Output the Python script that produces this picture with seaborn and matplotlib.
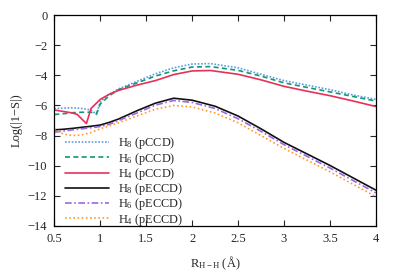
import matplotlib
matplotlib.use("Agg")
import matplotlib.pyplot as plt
import seaborn as sns

# pCCD curves
x_h8_pccd = [0.5, 0.6, 0.7, 0.8, 0.9, 0.96, 1.0, 1.1, 1.2, 1.4, 1.6, 1.8, 2.0, 2.2, 2.5, 2.75, 3.0, 3.25, 3.5, 3.75, 4.0]
y_h8_pccd = [-6.2, -6.18, -6.15, -6.2, -6.3, -6.6, -5.75, -5.25, -4.9, -4.4, -3.9, -3.5, -3.25, -3.22, -3.5, -3.93, -4.35, -4.65, -4.95, -5.3, -5.6]
x_h6_pccd = [0.5, 0.6, 0.7, 0.8, 0.9, 0.96, 1.0, 1.1, 1.2, 1.4, 1.6, 1.8, 2.0, 2.2, 2.5, 2.75, 3.0, 3.25, 3.5, 3.75, 4.0]
y_h6_pccd = [-6.6, -6.55, -6.48, -6.45, -6.45, -6.55, -5.9, -5.35, -4.95, -4.5, -4.05, -3.7, -3.45, -3.42, -3.67, -4.05, -4.5, -4.8, -5.1, -5.4, -5.71]
x_h4_pccd = [0.5, 0.6, 0.7, 0.75, 0.85, 0.9, 1.0, 1.1, 1.2, 1.4, 1.6, 1.8, 2.0, 2.2, 2.5, 2.75, 3.0, 3.25, 3.5, 3.75, 4.0]
y_h4_pccd = [-6.3, -6.4, -6.5, -6.6, -7.2, -6.2, -5.6, -5.25, -5.0, -4.65, -4.35, -3.95, -3.71, -3.68, -3.93, -4.3, -4.73, -5.05, -5.35, -5.7, -6.07]

# pECCD curves
x_eccd = [0.5, 0.6, 0.7, 0.8, 0.9, 1.0, 1.1, 1.2, 1.4, 1.6, 1.8, 2.0, 2.25, 2.5, 2.75, 3.0, 3.5, 4.0]
y_h8_peccd = [-7.62, -7.58, -7.52, -7.45, -7.38, -7.3, -7.12, -6.9, -6.35, -5.85, -5.52, -5.65, -6.05, -6.7, -7.55, -8.45, -9.98, -11.62]
y_h6_peccd = [-7.78, -7.7, -7.62, -7.55, -7.48, -7.4, -7.25, -7.0, -6.5, -5.98, -5.67, -5.8, -6.2, -6.88, -7.72, -8.6, -10.15, -11.8]
y_h4_peccd = [-7.55, -7.9, -8.0, -7.95, -7.8, -7.55, -7.35, -7.15, -6.7, -6.25, -6.0, -6.1, -6.5, -7.15, -8.0, -8.85, -10.4, -12.05]

labels = ["H$_8$ (pCCD)", "H$_6$ (pCCD)", "H$_4$ (pCCD)",
          "H$_8$ (pECCD)", "H$_6$ (pECCD)", "H$_4$ (pECCD)"]

sns.set_style("ticks")
plt.rcParams["font.family"] = ["Liberation Serif", "DejaVu Serif"]
plt.rcParams["mathtext.fontset"] = "custom"
plt.rcParams["mathtext.rm"] = "Liberation Serif"
plt.rcParams["mathtext.it"] = "Liberation Serif:italic"
plt.rcParams["font.size"] = 9

fig = plt.figure(figsize=(3.99, 2.79), dpi=100)
ax = fig.add_axes([0.136, 0.19, 0.806, 0.756])

series = [
    (x_h8_pccd, y_h8_pccd, "#5b9bf0", (0, (1, 1))),
    (x_h6_pccd, y_h6_pccd, "#139a6c", (0, (3, 2))),
    (x_h4_pccd, y_h4_pccd, "#e8305a", "-"),
    (x_eccd, y_h8_peccd, "#111111", "-"),
    (x_eccd, y_h6_peccd, "#9a6ae0", (0, (4, 1.5, 1, 1.5))),
    (x_eccd, y_h4_peccd, "#ff9a2a", (0, (1, 1.5))),
]
for (xs, ys, col, ls), lab in zip(series, labels):
    sns.lineplot(x=xs, y=ys, ax=ax, color=col, linestyle=ls, linewidth=1.2, label=lab)

ax.set_xlim(0.5, 4)
ax.set_ylim(-14, 0)
ax.set_xticks([0.5, 1, 1.5, 2, 2.5, 3, 3.5, 4])
ax.set_xticklabels(["0.5", "1", "1.5", "2", "2.5", "3", "3.5", "4"])
ax.set_yticks(range(-14, 1, 2))
ax.tick_params(direction="in", top=True, right=True, length=4, width=0.8, labelsize=9, pad=5)
for s in ax.spines.values():
    s.set_linewidth(0.9)
    s.set_color("black")

ax.set_xlabel("R$_{\\mathrm{H-H}}$ (Å)", fontsize=9, labelpad=7)
ax.set_ylabel("Log(|1−S|)", fontsize=9)

ax.legend(loc="lower left", bbox_to_anchor=(0.0, -0.06), frameon=False,
          handlelength=3.6, labelspacing=-0.06, handletextpad=0.7, fontsize=8.8)

fig.savefig("out.png", dpi=100)
